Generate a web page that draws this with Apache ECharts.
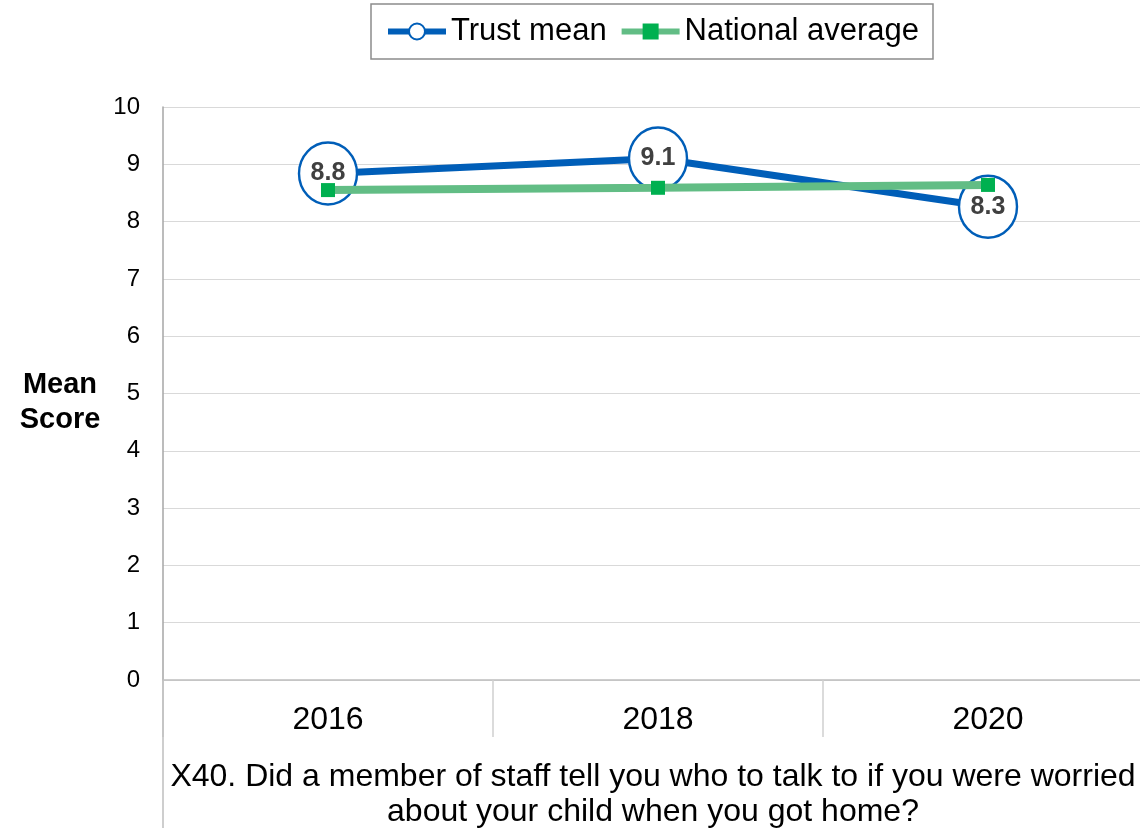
<!DOCTYPE html>
<html>
<head>
<meta charset="utf-8">
<script src="https://cdn.jsdelivr.net/npm/echarts@6/dist/echarts.min.js"></script>
<style>
html,body{margin:0;padding:0;background:#fff;}
#chart{width:1140px;height:828px;}
</style>
</head>
<body>
<div id="chart"></div>
<script>
var years = ['2016', '2018', '2020'];
var trustMean = [8.84, 9.1, 8.26];
var nationalAverage = [8.55, 8.59, 8.64];
var yTicks = {min: 0, max: 10, interval: 1};
var question = ['X40. Did a member of staff tell you who to talk to if you were worried\nabout your child when you got home?'];
var seriesNames = ['Trust mean', 'National average'];
var yAxisTitle = 'Mean\nScore';

var FONT = '"Liberation Sans", Arial, sans-serif';
var chart = echarts.init(document.getElementById('chart'), null, {renderer: 'canvas'});
chart.setOption({
  animation: false,
  backgroundColor: '#ffffff',
  textStyle: {fontFamily: FONT},
  title: {
    text: yAxisTitle,
    left: 60,
    top: 367,
    textAlign: 'center',
    padding: 0,
    textStyle: {fontFamily: FONT, fontSize: 29, fontWeight: 'bold', color: '#000', lineHeight: 35}
  },
  legend: {
    data: seriesNames,
    left: 371,
    top: 4,
    itemWidth: 58,
    itemHeight: 20,
    itemGap: 12,
    padding: [12, 14, 12, 14],
    borderColor: '#8c8c8c',
    borderWidth: 1.5,
    lineStyle: {width: 6},
    textStyle: {fontFamily: FONT, fontSize: 31, color: '#000'}
  },
  grid: {left: 163, top: 107, width: 990, height: 573, outerBoundsMode: 'none', containLabel: false},
  xAxis: [{
    type: 'category',
    data: years,
    boundaryGap: true,
    axisLine: {show: true, lineStyle: {color: '#bfbfbf', width: 1.5}},
    axisTick: {show: true, interval: 0, length: 57, lineStyle: {color: '#d0d0d0', width: 1.5}},
    axisLabel: {fontFamily: FONT, fontSize: 32, color: '#000', margin: 24, interval: 0},
    splitLine: {show: false}
  }, {
    type: 'category',
    data: question,
    position: 'bottom',
    boundaryGap: true,
    axisLine: {show: false},
    axisTick: {show: true, length: 148, lineStyle: {color: '#bfbfbf', width: 1.5}},
    axisLabel: {fontFamily: FONT, fontSize: 32, color: '#000', margin: 80, lineHeight: 35, align: 'center', padding: [0, 10, 0, 0]},
    splitLine: {show: false}
  }],
  yAxis: {
    type: 'value',
    min: yTicks.min,
    max: yTicks.max,
    interval: yTicks.interval,
    axisLine: {show: true, lineStyle: {color: '#a6a6a6', width: 1.5}},
    axisTick: {show: false},
    axisLabel: {fontFamily: FONT, fontSize: 24, color: '#000', margin: 23},
    splitLine: {show: true, lineStyle: {color: '#d9d9d9', width: 1.2}}
  },
  series: [{
    name: seriesNames[0],
    type: 'line',
    data: trustMean,
    symbol: 'circle',
    symbolSize: [58, 62],
    lineStyle: {color: '#005EB8', width: 7},
    itemStyle: {color: '#ffffff', borderColor: '#005EB8', borderWidth: 2.5},
    label: {
      show: true,
      position: 'inside',
      fontFamily: FONT,
      fontSize: 25,
      fontWeight: 'bold',
      color: '#404040',
      formatter: function (p) { return p.value.toFixed(1); }
    },
    z: 2
  }, {
    name: seriesNames[1],
    type: 'line',
    data: nationalAverage,
    symbol: 'rect',
    symbolSize: 14,
    lineStyle: {color: '#62BD85', width: 8},
    itemStyle: {color: '#00B050'},
    z: 3
  }]
});
</script>
</body>
</html>
